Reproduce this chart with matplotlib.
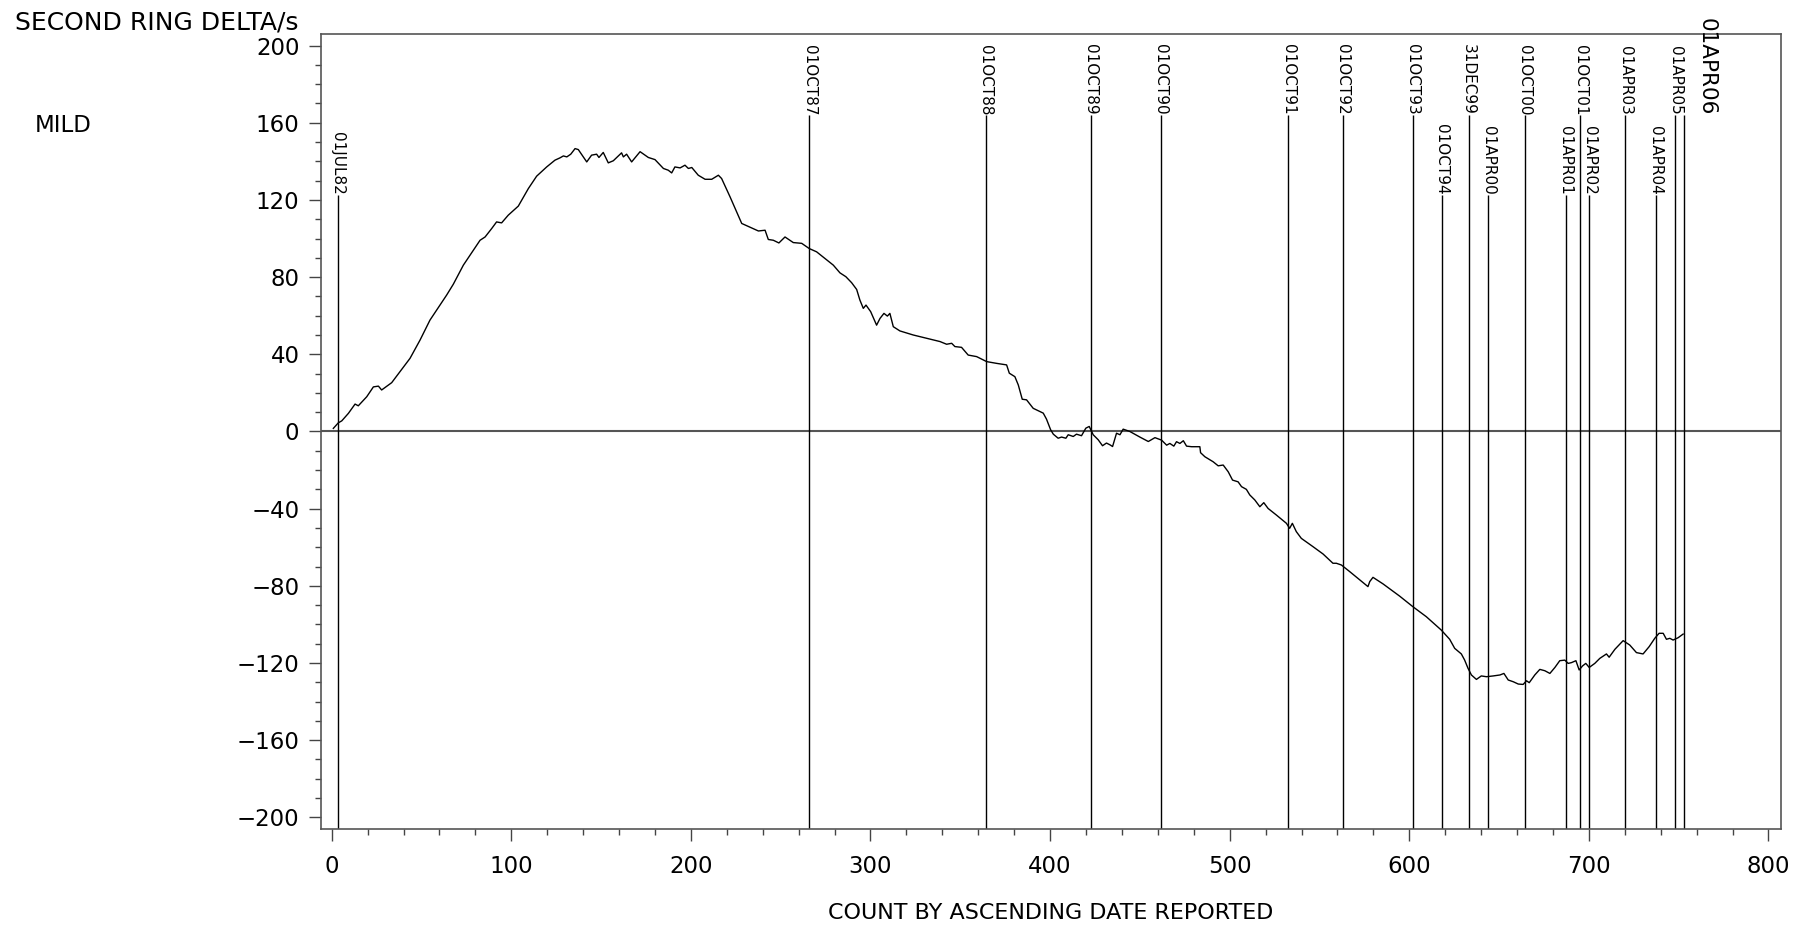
import numpy as np
import matplotlib.pyplot as plt
from matplotlib.ticker import MultipleLocator

# cumulative delta
count = [0.9, 3.7, 5.6, 9.3, 13.0, 14.8, 19.5, 23.2, 26.0, 27.8, 33.4, 38.0, 43.6, 49.2,
         54.7, 60.3, 64.0, 67.7, 73.3, 78.9, 82.6, 85.4, 89.1, 91.8, 94.6, 98.3, 103.9,
         109.5, 114.1, 119.7, 124.3, 127.1, 129.0, 130.9, 133.1, 135.5, 137.3, 142.0,
         144.7, 147.5, 148.8, 151.2, 154.0, 156.8, 161.4, 162.4, 164.2, 167.0, 171.7,
         176.3, 180.0, 184.7, 187.4, 189.3, 191.1, 194.0, 196.7, 198.6, 200.5, 204.1,
         207.9, 211.6, 215.3, 217.1, 221.8, 228.3, 233.8, 237.6, 241.3, 243.1, 245.9,
         249.0, 252.4, 257.0, 261.7, 265.9, 270.0, 274.6, 279.3, 283.0, 286.3, 289.5,
         292.3, 294.1, 296.0, 297.5, 300.1, 303.4, 305.3, 307.5, 309.4, 310.8, 312.7,
         316.4, 323.8, 331.2, 338.7, 342.4, 345.2, 347.0, 350.7, 354.4, 359.1, 364.7,
         370.2, 375.8, 377.3, 380.4, 382.3, 384.5, 386.9, 390.6, 396.2, 398.0, 400.3,
         401.8, 404.5, 406.4, 408.8, 410.1, 412.9, 414.7, 417.5, 419.9, 421.8, 424.0,
         426.8, 429.2, 431.4, 433.3, 434.8, 437.0, 438.9, 440.7, 444.4, 450.0, 454.7,
         458.4, 462.1, 464.9, 466.7, 468.9, 470.4, 472.3, 474.2, 476.0, 478.8, 483.4,
         483.8, 486.2, 490.8, 493.6, 496.4, 499.2, 501.6, 504.7, 506.6, 509.3, 511.2,
         514.0, 516.8, 519.0, 521.4, 526.0, 531.6, 533.4, 534.9, 537.1, 539.9, 546.4,
         552.0, 557.5, 559.4, 562.2, 566.8, 572.4, 577.0, 578.0, 579.8, 585.4, 594.6,
         602.0, 609.5, 617.8, 622.5, 625.3, 629.0, 630.8, 632.7, 634.6, 637.4, 640.1,
         643.0, 646.7, 650.5, 652.7, 655.1, 657.9, 660.7, 663.4, 665.3, 666.8, 669.9,
         672.7, 675.5, 678.3, 681.1, 683.8, 686.6, 688.5, 690.3, 692.8, 694.6, 696.5,
         698.3, 700.2, 703.3, 706.1, 709.8, 711.3, 714.5, 719.1, 722.8, 726.5, 730.2,
         733.6, 736.7, 739.1, 741.4, 743.2, 745.1, 746.9, 749.7, 752.5]
delta = [1.6, 4.5, 5.5, 9.4, 14.2, 13.3, 18.0, 23.1, 23.5, 21.5, 25.3, 31.0, 37.9, 47.4,
         57.7, 65.5, 70.7, 76.3, 86.2, 94.0, 99.1, 100.8, 105.2, 108.6, 108.1, 112.1, 116.8,
         125.9, 132.3, 137.1, 140.6, 141.8, 142.8, 142.3, 143.7, 146.6, 146.1, 139.7,
         143.2, 143.7, 142.0, 144.6, 139.2, 140.3, 144.4, 142.3, 143.7, 139.7, 145.0,
         142.0, 140.9, 136.3, 135.4, 134.0, 137.1, 136.6, 138.0, 136.3, 136.8, 132.8,
         130.7, 130.7, 132.8, 131.1, 121.6, 107.8, 105.5, 103.9, 104.3, 99.5, 99.1,
         97.7, 100.8, 97.9, 97.5, 94.8, 93.1, 89.7, 86.2, 82.2, 80.2, 77.1,
         73.6, 68.1, 63.8, 65.5, 62.1, 55.1, 58.6, 61.2, 59.8, 61.2, 54.3,
         52.1, 50.0, 48.3, 46.6, 45.2, 45.7, 44.0, 43.6, 39.6, 38.8, 36.2,
         35.3, 34.5, 30.2, 28.4, 24.1, 16.7, 16.4, 12.0, 9.5, 6.4, 0.9,
         -1.4, -3.5, -2.9, -3.5, -1.7, -2.6, -1.4, -2.2, 1.7, 2.6, -1.7,
         -4.3, -7.4, -6.0, -6.9, -7.8, -0.9, -1.7, 1.2, 0.0, -2.9, -5.2,
         -3.2, -4.5, -7.1, -6.2, -7.6, -5.3, -6.2, -4.8, -7.6, -7.9, -7.9,
         -11.0, -13.1, -15.7, -17.8, -17.4, -20.9, -25.2, -26.1, -28.6, -30.0, -32.9,
         -35.5, -39.0, -36.9, -39.9, -43.3, -47.6, -50.2, -47.6, -51.9, -55.4, -59.7,
         -63.5, -68.3, -68.3, -69.2, -72.6, -76.9, -80.4, -77.8, -75.6, -79.0, -85.3,
         -90.8, -96.0, -102.9, -107.7, -112.4, -115.3, -118.4, -122.7, -126.2, -128.5, -126.7,
         -127.1, -126.7, -126.2, -125.4, -128.8, -129.7, -130.9, -131.1, -129.2, -130.2, -126.2,
         -123.3, -124.0, -125.4, -122.3, -118.8, -118.5, -120.2, -119.8, -118.8, -123.6, -121.5,
         -120.2, -122.3, -120.2, -117.6, -115.3, -117.0, -112.9, -108.4, -110.7, -114.6, -115.3,
         -111.5, -107.2, -104.6, -104.6, -107.7, -107.2, -108.1, -106.9, -105.0]

# reference dates marked on the count axis
event_labels = ['01JUL82', '01OCT87', '01OCT88', '01OCT89', '01OCT90', '01OCT91',
                '01OCT92', '01OCT93', '01OCT94', '31DEC99', '01APR00', '01OCT00',
                '01APR01', '01OCT01', '01APR02', '01APR03', '01APR04', '01APR05']
event_counts = [3.3, 265.9, 364.1, 422.6, 461.6, 532.7, 563.0, 601.9, 618.0, 633.1,
                644.0, 664.3, 687.2, 695.2, 700.2, 720.3, 737.2, 748.1]
event_top = [122.5, 164, 164, 164, 164, 164, 164, 164, 122.5, 164,
             122.5, 164, 122.5, 164, 122.5, 164, 122.5, 164]

last_label = '01APR06'
last_count = 753.1
last_top = 164

plt.rcParams['font.family'] = ['DejaVu Sans']

fig = plt.figure(figsize=(17.99, 9.26), dpi=100)
ax = fig.add_axes([0.1784, 0.1048, 0.8116, 0.8585])

ymin, ymax = -206, 206
ax.set_xlim(-6, 807)
ax.set_ylim(ymin, ymax)

ax.axhline(0, color='#555555', lw=1.5, zorder=1)
ax.plot(count, delta, color='black', lw=1.0, zorder=3)

for lab, x, top in zip(event_labels, event_counts, event_top):
    ax.vlines(x, ymin, top, color='black', lw=1.0, zorder=2)
    ax.text(x, top, lab, rotation=270, ha='center', va='bottom', fontsize=11)

ax.vlines(last_count, ymin, last_top, color='black', lw=1.0, zorder=2)
ax.annotate(last_label, xy=(last_count, last_top), xytext=(9, 0),
            textcoords='offset points', rotation=270, ha='left', va='bottom',
            fontsize=15.5, annotation_clip=False)

# axes styling
ax.xaxis.set_major_locator(MultipleLocator(100))
ax.xaxis.set_minor_locator(MultipleLocator(20))
ax.yaxis.set_major_locator(MultipleLocator(40))
ax.yaxis.set_minor_locator(MultipleLocator(10))
ax.set_yticks(np.arange(-200, 201, 40))
ax.tick_params(which='major', length=8.5, width=1, color='#444444',
               labelsize=16.5, direction='out')
ax.tick_params(which='minor', length=4.5, width=1, color='#444444', direction='out')
ax.tick_params(axis='x', which='major', pad=10)
ax.tick_params(axis='y', which='major', pad=7)
for s in ax.spines.values():
    s.set_color('#555555')
    s.set_linewidth(1.2)

ax.set_xlabel('COUNT BY ASCENDING DATE REPORTED', fontsize=16)
ax.xaxis.set_label_coords(0.5, -0.093)

fig.text(15 / 1799, 1 - 11 / 926, 'SECOND RING DELTA/s', fontsize=18, va='top', ha='left')
fig.text(35 / 1799, 1 - 125 / 926, 'MILD', fontsize=16.5, va='center', ha='left')

plt.savefig('out.png', dpi=100)
